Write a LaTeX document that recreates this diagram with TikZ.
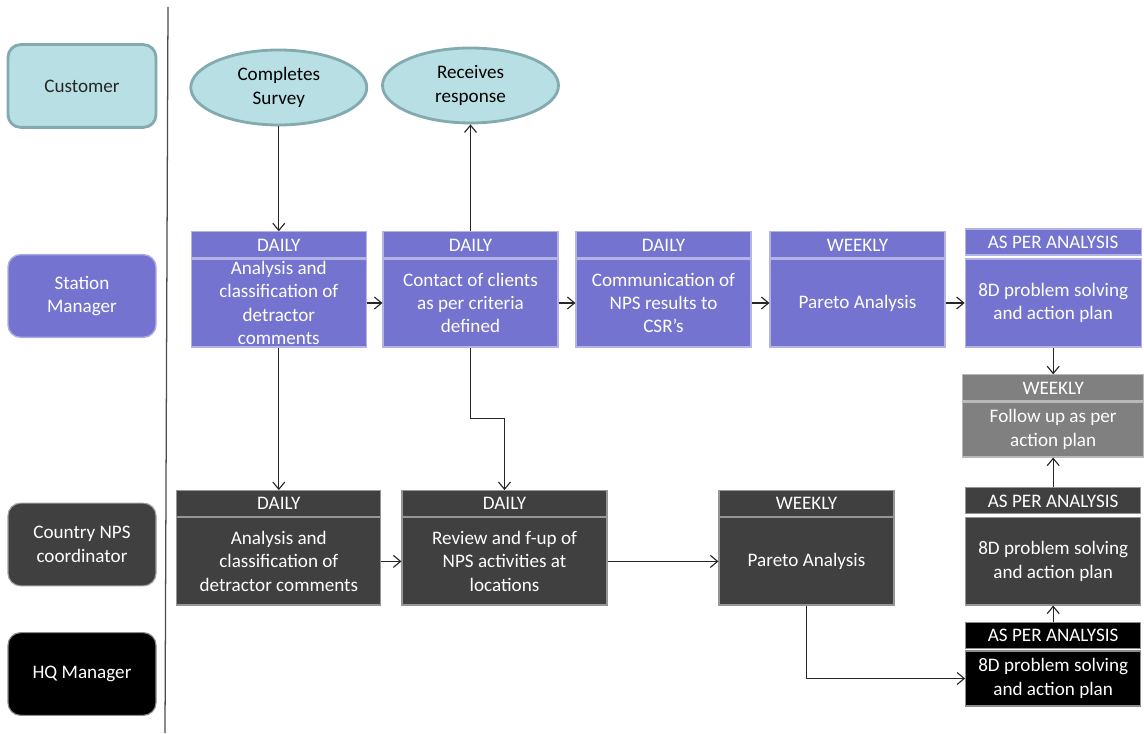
\documentclass[tikz,border=0pt]{standalone}
\usepackage{fontspec}
\setmainfont{Carlito}
\usetikzlibrary{shapes.geometric,arrows.meta,positioning}

\definecolor{cust}{RGB}{184,223,227}
\definecolor{custline}{RGB}{130,170,175}
\definecolor{station}{RGB}{116,116,208}
\definecolor{country}{RGB}{64,64,64}
\definecolor{follow}{RGB}{128,128,128}

\tikzset{
  lane/.style={rounded corners=9pt, minimum width=3.7cm, minimum height=2.07cm, align=center},
  body/.style={fill=#1, draw=#1!55!white, line width=0.8pt, text=white, align=center, inner sep=0pt},
  head/.style={fill=#1, draw=#1!55!white, line width=0.8pt, text=white, inner sep=0pt, minimum height=0.65cm}
}

\begin{document}
\begin{tikzpicture}[>={Straight Barb[length=1.8mm,width=3mm]}, font=\fontsize{13.6}{16.6}\selectfont]

      \useasboundingbox (0,0) rectangle (28.6,18.325);
      \draw[line width=0.9pt, black!70] (4.2,18.15) -- (4.125,0);

      \begin{scope}[every node/.style={lane}]
        \node[fill=cust, draw=custline, line width=2pt, text=black!85] (cust) at (2.05,16.175) {Customer};
        \node[fill=station, draw=station!60!white, line width=1pt, text=white] (stat) at (2.05,10.925) {Station\\Manager};
        \node[fill=country, draw=country!50!white, line width=0.8pt, text=white] (ctry) at (2.05,4.7125) {Country NPS\\coordinator};
        \node[fill=black, draw=black!45!white, line width=0.8pt, text=white] (hq) at (2.05,1.475) {HQ Manager};
      \end{scope}

      \begin{scope}[every node/.style={ellipse, fill=cust, draw=custline, line width=2pt, minimum width=4.4cm, minimum height=1.875cm, align=center, inner sep=0pt}]
        \node (survey)   at (6.97,16.1375)  {Completes\\Survey};
        \node (response) at (11.7625,16.1875) {Receives\\response};
      \end{scope}

      \begin{scope}[every node/.style={body=station, minimum height=2.2cm}]
        \node[minimum width=4.375cm] (s1) at (6.97,10.75)    {Analysis and\\classification of\\detractor\\comments};
        \node[minimum width=4.375cm] (s2) at (11.7625,10.75) {Contact of clients\\as per criteria\\defined};
        \node[minimum width=4.375cm] (s3) at (16.5875,10.75) {Communication of\\NPS results to\\CSR’s};
        \node[minimum width=4.375cm] (s4) at (21.4375,10.75) {Pareto Analysis};
        \node[minimum width=4.4cm]   (s5) at (26.33,10.75)   {8D problem solving\\and action plan};
      \end{scope}

      \begin{scope}[every node/.style={head=station}]
        \node[minimum width=4.375cm, above=0pt of s1] (s1h) {DAILY};
        \node[minimum width=4.375cm, above=0pt of s2] (s2h) {DAILY};
        \node[minimum width=4.375cm, above=0pt of s3] (s3h) {DAILY};
        \node[minimum width=4.375cm, above=0pt of s4] (s4h) {WEEKLY};
        \node[minimum width=4.4cm, above=2pt of s5]   (s5h) {AS PER ANALYSIS};
      \end{scope}

      \node[body=follow, minimum width=4.525cm, minimum height=1.375cm] (fu) at (26.33,7.5875) {Follow up as per\\action plan};
      \node[head=follow, minimum width=4.525cm, above=0pt of fu] (fuh) {WEEKLY};

      \begin{scope}[every node/.style={body=country, minimum height=2.18cm}]
        \node[minimum width=5.1cm]   (c1) at (6.97,4.29)    {Analysis and\\classification of\\detractor comments};
        \node[minimum width=5.125cm] (c2) at (12.6125,4.29) {Review and f-up of\\NPS activities at\\locations};
        \node[minimum width=4.375cm] (c3) at (20.1625,4.29) {Pareto Analysis};
        \node[minimum width=4.375cm] (c4) at (26.33,4.29)   {8D problem solving\\and action plan};
      \end{scope}

      \begin{scope}[every node/.style={head=country}]
        \node[minimum width=5.1cm, above=0pt of c1]   (c1h) {DAILY};
        \node[minimum width=5.125cm, above=0pt of c2] (c2h) {DAILY};
        \node[minimum width=4.375cm, above=0pt of c3] (c3h) {WEEKLY};
        \node[minimum width=4.375cm, above=2pt of c4] (c4h) {AS PER ANALYSIS};
      \end{scope}

      \node[body=black, draw=black!45!white, minimum width=4.375cm, minimum height=1.375cm] (hq1) at (26.33,1.3625) {8D problem solving\\and action plan};
      \node[head=black, draw=black!45!white, minimum width=4.375cm, above=1pt of hq1] (hq1h) {AS PER ANALYSIS};

      \coordinate (bend) at (11.7625,7.8625);

      \begin{scope}[every path/.style={draw, ->, line width=0.8pt, black!85}]
        \path (survey) -- (s1h);
        \path (s2h) -- (response);
        \path (s1) -- (s2);
        \path (s2) -- (s3);
        \path (s3) -- (s4);
        \path (s4) -- (s5);
        \path (s5) -- (fuh);
        \path (s1) -- (c1h);
        \path (s2) -- (bend) -| (c2h);
        \path (c1) -- (c2);
        \path (c2) -- (c3);
        \path (c3) |- (hq1);
        \path (hq1h) -- (c4);
        \path (c4h) -- (fu);
      \end{scope}

    \end{tikzpicture}
\end{document}
